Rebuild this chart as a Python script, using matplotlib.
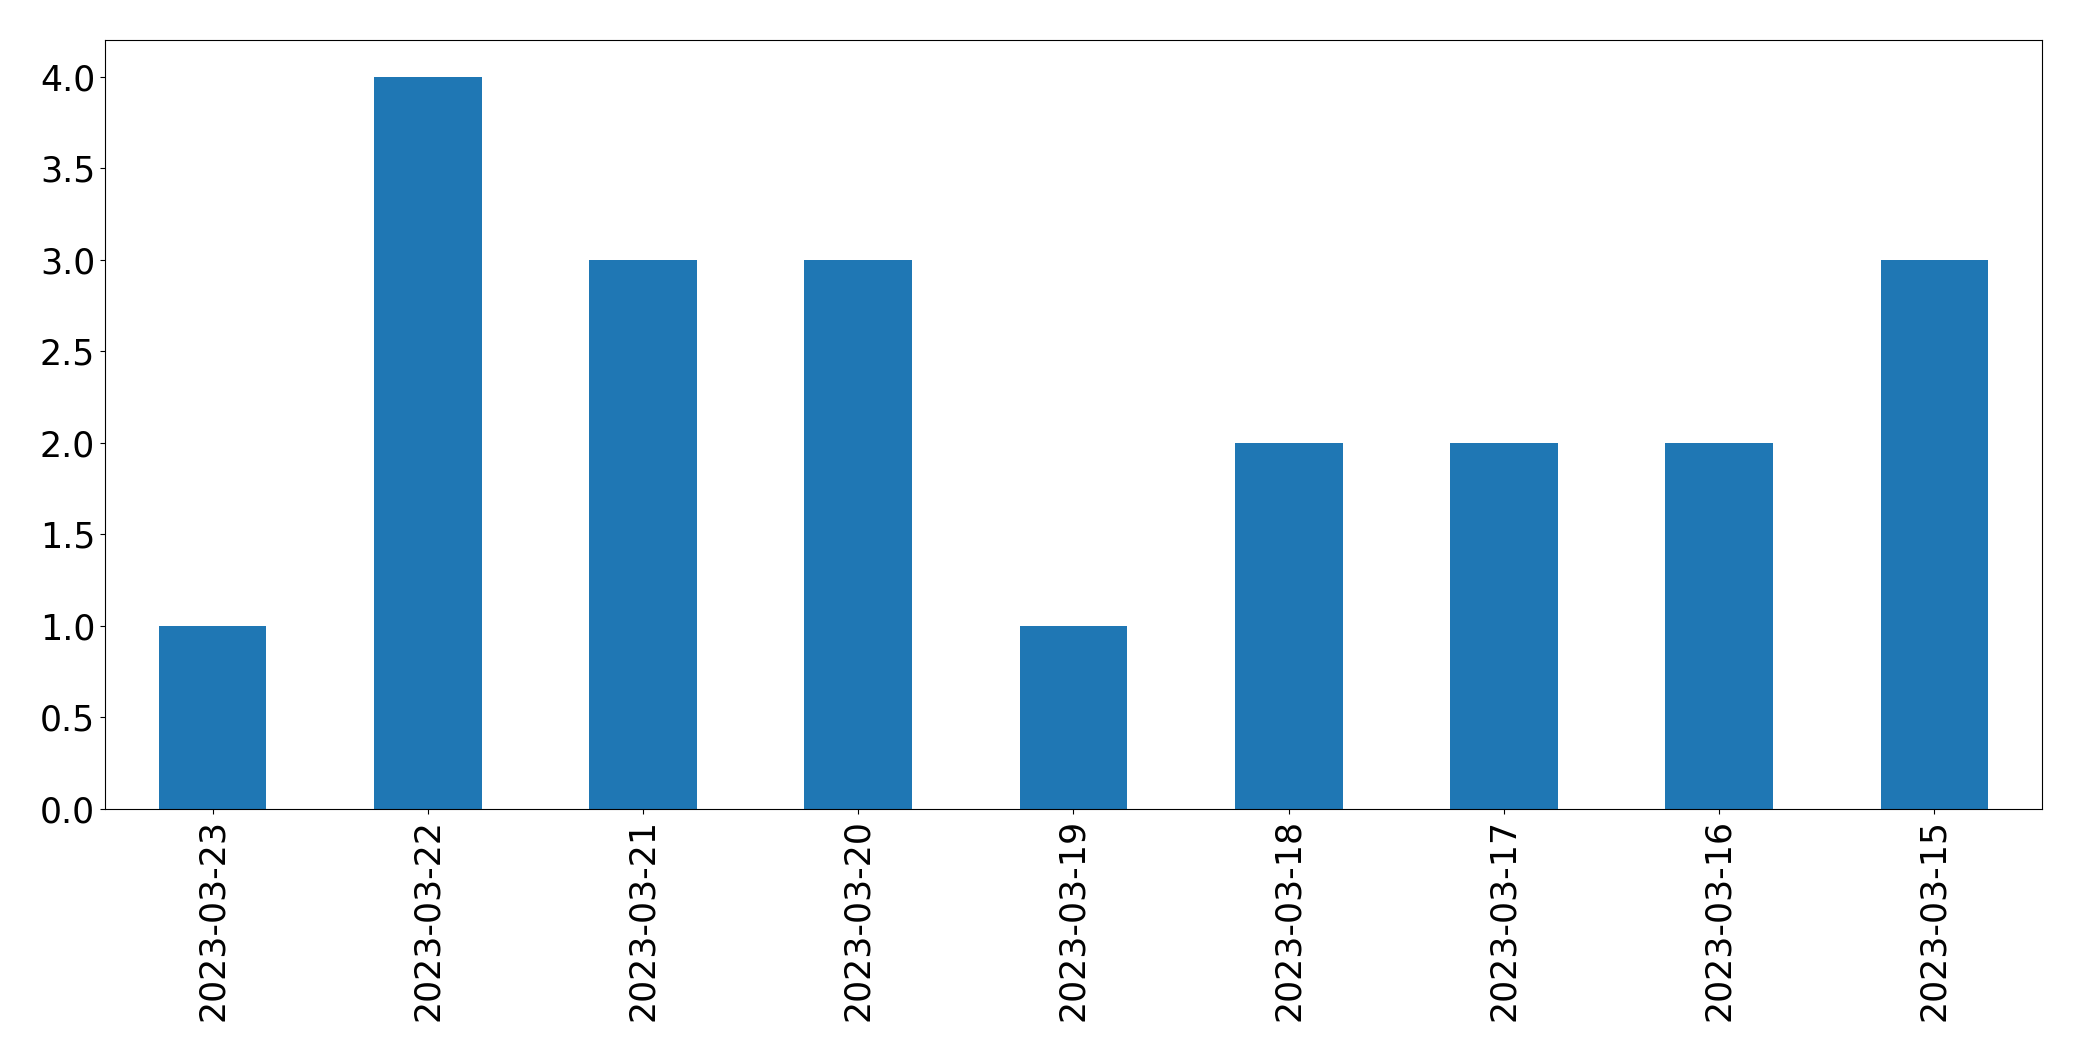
import matplotlib
matplotlib.use("agg")
import matplotlib.pyplot as plt
import numpy as np

dates = ["2023-03-23", "2023-03-22", "2023-03-21", "2023-03-20", "2023-03-19",
         "2023-03-18", "2023-03-17", "2023-03-16", "2023-03-15"]
counts = [1, 4, 3, 3, 1, 2, 2, 2, 3]

fig = plt.figure(figsize=(20.82, 10.61), dpi=100)
ax = fig.add_axes([0.0504, 0.2375, 0.9304, 0.7248])

x = np.arange(len(dates))
ax.bar(x, counts, width=0.5, color="#1f77b4")
ax.set_xlim(-0.5, len(dates) - 0.5)
ax.set_xticks(x)
ax.set_xticklabels(dates, rotation=90)
ax.tick_params(labelsize=25)

fig.savefig("out.png")
